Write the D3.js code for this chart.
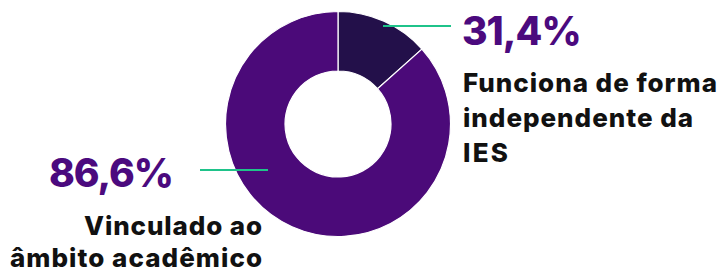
<!DOCTYPE html>
<html><head><meta charset="utf-8">
<script src="https://cdn.jsdelivr.net/npm/d3@7"></script>
<style>body{margin:0;background:#fff;} svg{display:block;}</style>
</head><body>
<script>
const categories = ["Funciona de forma independente da IES", "Vinculado ao âmbito acadêmico"];
const sliceValues = [13.4, 86.6];
const valueLabels = ["31,4%", "86,6%"];
const labelLines = [["Funciona de forma", "independente da", "IES"], ["Vinculado ao", "âmbito acadêmico"]];
const colors = ["#23104a", "#4b0a79"];

const W = 723, H = 271;
const svg = d3.select("body").append("svg").attr("width", W).attr("height", H);
const cx = 338, cy = 124, rOuter = 112.5, rInner = 53;

const pie = d3.pie().sort(null).value(d => d);
const arc = d3.arc().innerRadius(rInner).outerRadius(rOuter);
const g = svg.append("g").attr("transform", `translate(${cx},${cy})`);
g.selectAll("path").data(pie(sliceValues)).join("path")
  .attr("d", arc).attr("fill", (d, i) => colors[i])
  .attr("stroke", "#fff").attr("stroke-width", 1.2);

const numFont = "Inter, sans-serif";
const font = "Inter, sans-serif";
const green = "#1fc38a", purple = "#4b0a7e";

function fitText(sel, width) {
  sel.attr("textLength", width).attr("lengthAdjust", "spacing");
}

// right label
svg.append("line").attr("x1", 383).attr("x2", 451).attr("y1", 26).attr("y2", 26)
  .attr("stroke", green).attr("stroke-width", 2.2);
svg.append("text").attr("x", 462).attr("y", 45).attr("fill", purple)
  .attr("font-family", numFont).attr("font-weight", 800).attr("font-size", 39)
  .attr("letter-spacing", -1).text(valueLabels[0]);
const rightWidths = [254, 230, 45];
labelLines[0].forEach((t, i) => {
  const s = svg.append("text").attr("x", 463).attr("y", 92 + i * 35).attr("fill", "#111")
    .attr("font-family", font).attr("font-weight", 800).attr("font-size", 26).text(t);
  fitText(s, rightWidths[i]);
});

// left label
svg.append("line").attr("x1", 200).attr("x2", 268).attr("y1", 170).attr("y2", 170)
  .attr("stroke", green).attr("stroke-width", 2.2);
svg.append("text").attr("x", 173).attr("y", 187).attr("text-anchor", "end").attr("fill", purple)
  .attr("font-family", numFont).attr("font-weight", 800).attr("font-size", 39)
  .attr("letter-spacing", -1).text(valueLabels[1]);
const leftWidths = [178, 252];
labelLines[1].forEach((t, i) => {
  const s = svg.append("text").attr("x", 262).attr("y", 235 + i * 32).attr("text-anchor", "end").attr("fill", "#111")
    .attr("font-family", font).attr("font-weight", 800).attr("font-size", 26).text(t);
  fitText(s, leftWidths[i]);
});
</script>
</body></html>
